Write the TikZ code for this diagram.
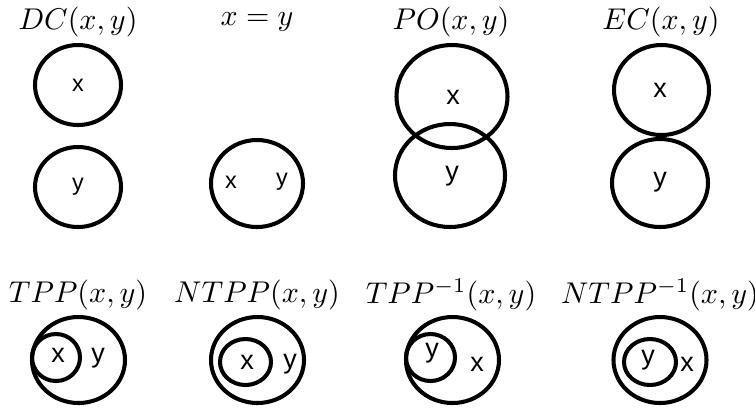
\documentclass[tikz,border=0pt]{standalone}
\usepackage{fontspec}
\newfontfamily\lblfont{Liberation Sans}
\begin{document}
\begin{tikzpicture}[x=0.3333pt, y=-0.3333pt,
    region/.style={line width=1.35pt},
    lbl/.style={font=\lblfont\fontsize{9}{10}\selectfont, inner sep=0pt},
    smalllbl/.style={font=\lblfont\fontsize{7.8}{9}\selectfont, inner sep=0pt}]
    \useasboundingbox (0,0) rectangle (755,407);
    % top row
    \node (DC) at (78,22) {$DC(x,y)$};
    \node (EQ) at (257,22) {$x=y$};
    \node (PO) at (451,22) {$PO(x,y)$};
    \node (EC) at (661,22) {$EC(x,y)$};
    % DC
    \draw[region] (78,85) ellipse (43 and 40);
    \draw[region] (78,187) ellipse (43 and 40);
    \node[smalllbl] (DCx) at (78,85) {x};
    \node[smalllbl] (DCy) at (78,187) {y};
    % x = y
    \draw[region] (257,183.5) ellipse (46 and 43.5);
    \node[smalllbl] (EQx) at (231,182) {x};
    \node[smalllbl] (EQy) at (282,182) {y};
    % PO
    \draw[region] (452,96.5) ellipse (55.5 and 51.5);
    \draw[region] (450,175.5) ellipse (55 and 51.5);
    \node[lbl] (POx) at (453,97) {x};
    \node[lbl] (POy) at (452,176) {y};
    % EC
    \draw[region] (661.5,90) ellipse (47.5 and 45);
    \draw[region] (660,183) ellipse (48 and 44);
    \node[lbl] (ECx) at (660,90) {x};
    \node[lbl] (ECy) at (660,182) {y};
    % bottom row
    \node (TPP) at (78,295) {$TPP(x,y)$};
    \node (NTPP) at (257,295) {$NTPP(x,y)$};
    \node (TPPi) at (451,295) {$TPP^{-1}(x,y)$};
    \node (NTPPi) at (660,295) {$NTPP^{-1}(x,y)$};
    % TPP
    \draw[region] (78.5,360) ellipse (46.5 and 43);
    \draw[region] (56,357.5) ellipse (24 and 23.5);
    \node[lbl] (TPPx) at (58,355) {x};
    \node[lbl] (TPPy) at (98,358) {y};
    % NTPP
    \draw[region] (257.5,360) ellipse (46.5 and 43);
    \draw[region] (245.5,362) ellipse (25.5 and 23);
    \node[lbl] (NTPPx) at (247,362) {x};
    \node[lbl] (NTPPy) at (290,364) {y};
    % TPP^-1
    \draw[region] (452.5,360) ellipse (46.5 and 43);
    \draw[region] (430.5,357.5) ellipse (24.5 and 23.5);
    \node[lbl] (TPPiy) at (432,353) {y};
    \node[lbl] (TPPix) at (477,364) {x};
    % NTPP^-1
    \draw[region] (660,360) ellipse (46.5 and 43);
    \draw[region] (650,362) ellipse (26 and 23);
    \node[lbl] (NTPPiy) at (648,360) {y};
    \node[lbl] (NTPPix) at (687,364) {x};
\end{tikzpicture}
\end{document}
